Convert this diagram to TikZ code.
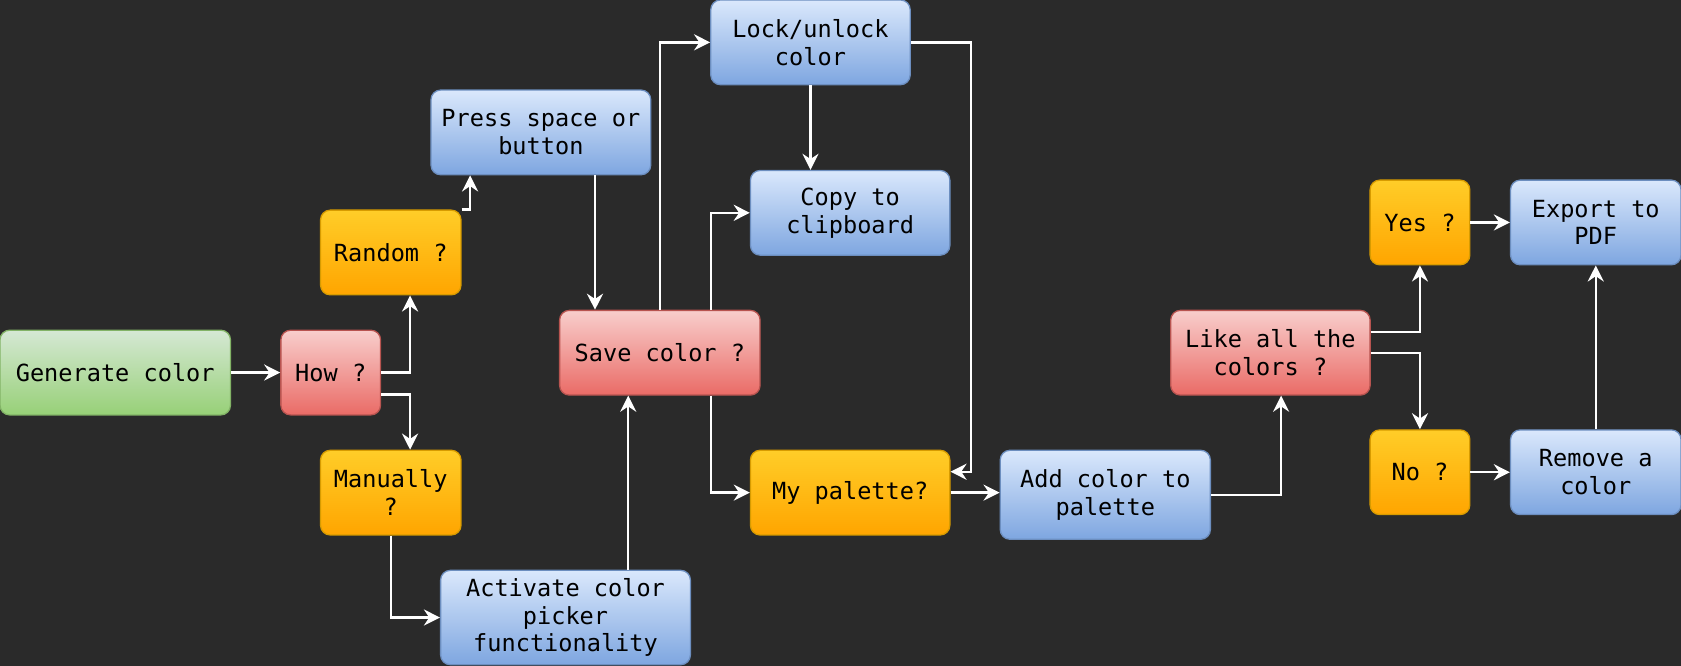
\documentclass[tikz,border=0pt]{standalone}
\usepackage{fontspec}
\setmainfont{DejaVu Sans Mono}
\usetikzlibrary{positioning,arrows.meta}

\definecolor{bg}{HTML}{2A2A2A}
\definecolor{greentop}{HTML}{D5E8D4}
\definecolor{greenbot}{HTML}{97D077}
\definecolor{greenline}{HTML}{82B366}
\definecolor{redtop}{HTML}{F8CECC}
\definecolor{redbot}{HTML}{EA6B66}
\definecolor{redline}{HTML}{B85450}
\definecolor{orangetop}{HTML}{FFCD28}
\definecolor{orangebot}{HTML}{FFA500}
\definecolor{orangeline}{HTML}{D79B00}
\definecolor{bluetop}{HTML}{DAE8FC}
\definecolor{bluebot}{HTML}{7EA6E0}
\definecolor{blueline}{HTML}{6C8EBF}

\begin{document}
\begin{tikzpicture}[
x=0.5pt,y=-0.5pt,
base/.style={
  rounded corners=4.5pt,
  minimum height=39.5pt,
  inner sep=0pt,
  align=center,
  text=black,
  line width=0.6pt,
  font=\fontsize{11}{13}\selectfont
},
start/.style={
  base,
  draw=greenline,
  top color=greentop,
  bottom color=greenbot
},
quest/.style={
  base,
  draw=redline,
  top color=redtop,
  bottom color=redbot
},
choice/.style={
  base,
  draw=orangeline,
  top color=orangetop,
  bottom color=orangebot
},
task/.style={
  base,
  draw=blueline,
  top color=bluetop,
  bottom color=bluebot
},
line/.style={
  draw=white,
  line width=1.1pt,
  -{Stealth[length=7.5pt,width=7.5pt,inset=2.5pt]}
}
]
\path[use as bounding box,fill=bg] (0,0) rectangle (1568,621);

\node[start,minimum width=107.5pt] at (107.5,347.5)
  (gen) {Generate color};
\node[quest,minimum width=46.5pt] at (308.5,347.5)
  (how) {How ?};
\node[choice,minimum width=65.5pt] at (364.5,235.5)
  (rand) {Random ?};
\node[choice,minimum width=65.5pt] at (364.5,459.5)
  (man) {Manually\\?};
\node[task,minimum width=102.5pt] at (504.5,123.5)
  (press) {Press space or\\button};
\node[task,minimum width=116.5pt,minimum height=44pt] at (527.5,576)
  (act) {Activate color\\picker\\functionality};
\node[quest,minimum width=93.5pt] at (615.5,329)
  (save) {Save color ?};
\node[task,minimum width=93pt] at (756,39.5)
  (lock) {Lock/unlock\\color};
\node[task,minimum width=93pt] at (793,198.5)
  (copy) {Copy to\\clipboard};
\node[choice,minimum width=93pt] at (793,459.5)
  (pal) {My palette?};
\node[task,minimum width=98pt,minimum height=41.5pt] at (1031,461.5)
  (add) {Add color to\\palette};
\node[quest,minimum width=93pt] at (1185,329)
  (like) {Like all the\\colors ?};
\node[choice,minimum width=46.5pt] at (1324.5,207.5)
  (yes) {Yes ?};
\node[choice,minimum width=46.5pt] at (1324.5,440.5)
  (no) {No ?};
\node[task,minimum width=79.5pt] at (1488.5,207.5)
  (exp) {Export to\\PDF};
\node[task,minimum width=79.5pt] at (1488.5,440.5)
  (rem) {Remove a\\color};

\draw[line] (gen) -- (how);
\draw[line] (how.east) -| ([xshift=9pt]rand.south);
\draw[line] ([yshift=-10.25pt]how.east) -| ([xshift=9pt]man.north);
\draw[line] (rand.north east) -| ([xshift=-33pt]press.south);
\draw[line] (man.south) |- (act.west);
\draw[line] ([xshift=-30.25pt]save.north |- press.south) -- ([xshift=-30.25pt]save.north);
\draw[line] ([xshift=29.25pt]act.north) -- ([xshift=29.25pt]act.north |- save.south);
\draw[line] (save.north) |- (lock.west);
\draw[line] ([xshift=23.75pt]save.north) |- (copy.west);
\draw[line] ([xshift=23.75pt]save.south) |- (pal.west);
\draw[line] (lock.south) -- (lock.south |- copy.north);
\draw[line] (lock.east) -- ++(28pt,0) |- ([yshift=9.75pt]pal.east);
\draw[line] (pal.east) -- (pal.east -| add.west);
\draw[line] (add.east) -| ([xshift=5pt]like.south);
\draw[line] ([yshift=9.75pt]like.east) -| (yes.south);
\draw[line] (like.east) -| (no.north);
\draw[line] (yes) -- (exp);
\draw[line] (no) -- (rem);
\draw[line] (rem) -- (exp);
\end{tikzpicture}
\end{document}
